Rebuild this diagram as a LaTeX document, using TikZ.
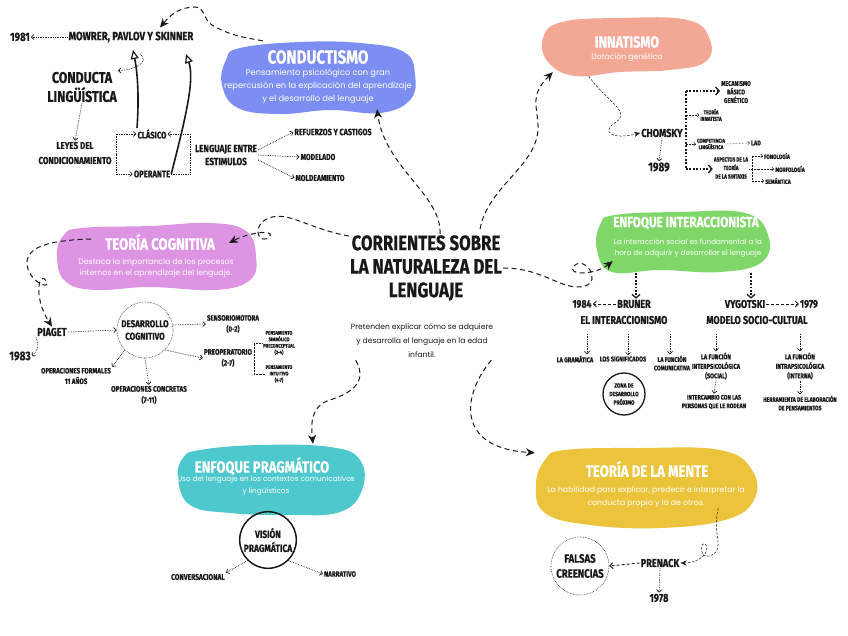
\documentclass[tikz,border=0pt]{standalone}
\usepackage{fontspec}
\setmainfont{Poppins}
\newfontfamily\hand{Fira Sans}[FakeStretch=0.8, FakeBold=0.5]
\usetikzlibrary{arrows.meta,calc}
\definecolor{cblue}{RGB}{124,142,242}
\definecolor{cpink}{RGB}{221,148,227}
\definecolor{csalmon}{RGB}{243,168,150}
\definecolor{cgreen}{RGB}{126,215,104}
\definecolor{cteal}{RGB}{77,200,204}
\definecolor{cyellow}{RGB}{236,196,59}
\definecolor{ink}{RGB}{25,25,25}
\tikzset{
 H/.style 2 args={font=\hand\bfseries\fontsize{#1}{#2}\selectfont, align=center, inner sep=1pt, text=ink},
 B/.style 2 args={font=\fontsize{#1}{#2}\selectfont, align=center, inner sep=0pt, text=white},
 T/.style={font=\hand\bfseries\fontsize{#1}{#1}\selectfont, text=white, inner sep=0pt},
 anch/.style 2 args={inner sep=0pt, minimum width=#1, minimum height=#2},
 dotarr/.style={densely dotted, line width=0.7pt, draw=ink, -{Straight Barb[length=2.5pt,width=5pt,line width=0.7pt]}},
 dotln/.style={densely dotted, line width=0.7pt, draw=ink},
 tinyarr/.style={densely dotted, line width=0.45pt, draw=ink, -{Straight Barb[length=1.8pt,width=3.5pt,line width=0.45pt]}},
 tinyln/.style={densely dotted, line width=0.45pt, draw=ink},
 heavyln/.style={dash pattern=on 1.8pt off 1.6pt, line width=1.8pt, draw=ink},
 heavyarr/.style={heavyln, -{Straight Barb[length=3.5pt,width=8pt,line width=1.3pt]}},
 dasharr/.style={dash pattern=on 5pt off 3.5pt, line width=1pt, draw=ink, -{Stealth[length=9pt,width=8pt]}},
 dashln/.style={dash pattern=on 3pt off 2pt, line width=0.9pt, draw=ink, -{Straight Barb[length=3pt,width=6pt,line width=0.9pt]}},
 thinarr/.style={dash pattern=on 2.5pt off 1.5pt, line width=0.5pt, draw=ink, -{Stealth[length=6pt,width=5pt]}},
 thickarr/.style={line width=1.6pt, draw=ink, -{Triangle[open,length=9pt,width=8pt,line width=1.2pt]}},
}
\begin{document}
\begin{tikzpicture}[x=1pt,y=-1pt]
\useasboundingbox (0,0) rectangle (848,636);
\fill[white] (0,0) rectangle (848,636);

% ---------- blobs ----------
\fill[cblue] plot[smooth cycle, tension=0.7] coordinates {(240,48) (300,42) (360,43) (404,52) (415,75) (410,100) (380,113) (330,110) (280,114) (238,108) (222,85) (226,60)};
\node[anch={190}{72}] (bC) at (318,78) {};
\fill[cpink] plot[smooth cycle, tension=0.7] coordinates {(82,228) (150,226) (210,223) (246,231) (256,256) (250,280) (215,290) (150,287) (95,290) (65,281) (57,256) (63,236)};
\node[anch={198}{66}] (bTC) at (156,256) {};
\fill[csalmon] plot[smooth cycle, tension=0.7] coordinates {(562,22) (620,18) (688,20) (710,40) (705,62) (670,70) (620,72) (575,76) (548,62) (543,38)};
\node[anch={166}{56}] (bIN) at (627,47) {};
\fill[cgreen] plot[smooth cycle, tension=0.7] coordinates {(615,215) (680,212) (745,213) (768,235) (762,262) (720,272) (660,270) (612,272) (597,250) (600,225)};
\node[anch={170}{58}] (bIA) at (683,242) {};
\fill[cteal] plot[smooth cycle, tension=0.7] coordinates {(200,450) (260,445) (330,447) (360,460) (362,490) (340,512) (290,515) (230,513) (190,505) (178,478) (183,458)};
\node[anch={184}{68}] (bPR) at (270,480) {};
\fill[cyellow] plot[smooth cycle, tension=0.7] coordinates {(565,450) (640,448) (720,450) (752,470) (754,500) (725,520) (660,528) (590,525) (545,513) (536,485) (545,460)};
\node[anch={218}{80}] (bTM) at (645,488) {};

% ---------- conductismo ----------
\node[T=19] (tC) at (318,57) {CONDUCTISMO};
\node[B={8.3}{13}] (dC) at (318,86) {Pensamiento psicológico con gran\\repercusión en la explicación del aprendizaje\\y el desarrollo del lenguaje};

\node[H={12}{13}] (n1981) at (20,37) {1981};
\node[H={12}{13}] (mow) at (131,37) {MOWRER, PAVLOV Y SKINNER};
\draw[dotarr] (mow.west) -- (n1981.east);
\node[H={15.5}{19}] (cl) at (82,87) {CONDUCTA\\LINGÜÍSTICA};
\node[H={10}{15}] (ley) at (75,153) {LEYES DEL\\CONDICIONAMIENTO};
\draw[dotarr] (cl.south) -- (ley.north);
\node[H={9.5}{10}] (clas) at (152,134) {CLÁSICO};
\node[H={9.5}{10}] (oper) at (152,174) {OPERANTE};
\coordinate (bl) at (116,155);
\draw[dotarr] (bl) |- (clas.west);
\draw[dotarr] (bl) |- (oper.west);
\node[H={10.3}{13}] (leng) at (226,155) {LENGUAJE ENTRE\\ESTIMULOS};
\coordinate (br) at (190,155);
\draw[dotarr] (br) |- (clas.east);
\draw[dotln] (br) |- (oper.east);
\coordinate (tA) at (133,50);
\coordinate (tB) at (186,54);
\draw[thickarr] ($(clas.north)+(-15,0)$) .. controls (139,100) and (138,75) .. (tA);
\draw[thickarr] (oper.east) .. controls (185,120) and (195,80) .. (tB);
\draw[dotarr] ($(tA)+(7,4)$) .. controls (150,62) and (135,70) .. (cl.north east);
\draw[dasharr] ($(bC.north west)+(40,-1)$) to[out=170,in=-30] (212,25) to[out=150,in=0] (195,7) to[out=180,in=50] ($(mow.north)+(29,-3)$);

\node[H={9}{10}] (ref) at (333,132) {REFUERZOS Y CASTIGOS};
\node[H={8.5}{10}] (mod) at (318,157) {MODELADO};
\node[H={8.5}{10}] (mol) at (320,178) {MOLDEAMIENTO};
\draw[dotarr] ($(leng.east)+(0,-5)$) -- (ref.west);
\draw[dotarr] (leng.east) -- (mod.west);
\draw[dotarr] ($(leng.east)+(0,5)$) -- (mol.west);

% ---------- center ----------
\node[H={21}{23.5}] (main) at (426,268) {CORRIENTES SOBRE\\LA NATURALEZA DEL\\LENGUAJE};
\node[font=\fontsize{7.6}{14}\selectfont, align=center, text=ink, inner sep=0pt] (sub) at (422,341) {Pretenden explicar cómo se adquiere\\y desarrolla el lenguaje en la edad\\infantil.};
\draw[dasharr] ($(main.north)+(14,0)$) .. controls (442,195) and (385,168) .. ($(bC.south)+(59,-5)$);

% ---------- teoria cognitiva ----------
\node[T=16.5] (tTC) at (160,242) {TEORÍA COGNITIVA};
\node[B={7.8}{11.5}] (dTC) at (156,268) {Destaca la importancia de los procesos\\internos en el aprendizaje del lenguaje.};
\draw[dasharr] ($(main.north west)+(0,2)$) .. controls (305,228) and (285,208) .. (265,220) .. controls (250,230) and (262,246) .. (270,236) .. controls (274,230) and (250,232) .. ($(tTC.east)+(14,1)$);
\node[H={11.5}{13}] (pia) at (52,332) {PIAGET};
\node[H={12.5}{14}] (n1983) at (20,356) {1983};
\draw[dasharr] ($(tTC.west)+(-14,-3)$) .. controls (55,240) and (28,245) .. (27,262) .. controls (26,280) and (52,292) .. (46,281) .. controls (40,270) and (32,295) .. (pia.north);
\node[circle, draw=ink, densely dotted, line width=0.6pt, minimum size=56, H={10}{12.5}] (des) at (145,330) {DESARROLLO\\COGNITIVO};
\draw[dotarr] (pia.east) -- (des.west);
\draw[dotarr] (pia.south west) .. controls (40,348) and (36,352) .. (n1983.east);
\node[H={7.7}{11}] (sen) at (233,324) {SENSORIOMOTORA\\(0-2)};
\node[H={8}{11}] (pre) at (228,358) {PREOPERATORIO\\(2-7)};
\node[H={8}{11}] (opc) at (149,395) {OPERACIONES CONCRETAS\\(7-11)};
\node[H={7.7}{10.5}] (opf) at (76,376) {OPERACIONES FORMALES\\11 AÑOS};
\draw[dotarr] ($(des.east)+(0,-5)$) -- (sen.west);
\draw[dotarr] (des.south east) -- (pre.west);
\draw[dotarr] (des.south) -- (opc.north);
\draw[dotarr] (des.south west) -- (opf.north east);
\node[H={5.2}{6.5}] (pe1) at (279,343) {PENSAMIENTO\\SIMBÓLICO\\PRECONCEPTUAL\\(2-4)};
\node[H={5.2}{6.5}] (pe2) at (279,374) {PENSAMIENTO\\INTUITIVO\\(4-7)};
\coordinate (pb) at (254,358);
\draw[tinyln] (pe1.west) -| (pb) |- (pe2.west);

% ---------- pragmatico ----------
\node[T=16.3] (tPR) at (262,466) {ENFOQUE PRAGMÁTICO};
\node[B={7.3}{12}] (dPR) at (266,486) {Uso del lenguaje en los contextos comunicativos\\y lingüísticos};
\draw[dasharr] ($(sub.south west)+(5,2)$) .. controls (370,385) and (345,395) .. (330,400) .. controls (310,406) and (311,425) .. ($(bPR.north)+(43,-2)$);
\node[circle, draw=ink, line width=1.5pt, minimum size=56, H={10.5}{14}] (vis) at (268,540) {VISIÓN\\PRAGMÁTICA};
\node[H={8.3}{9}] (conv) at (198,577) {CONVERSACIONAL};
\node[H={7.8}{9}] (nar) at (340,574) {NARRATIVO};
\draw[dotarr] (vis.south west) -- (conv.north east);
\draw[dotarr] (vis.south east) -- (nar.west);

% ---------- innatismo ----------
\node[T=16] (tIN) at (627,42) {INNATISMO};
\node[B={7.7}{10}] (dIN) at (627,58) {Dotación genética};
\draw[dasharr] ($(main.north east)+(-23,-5)$) .. controls (488,185) and (540,165) .. (538,125) .. controls (537,105) and (530,95) .. ($(bIN.south west)+(9,-3)$);
\node[H={11.5}{13}] (cho) at (662,133) {CHOMSKY};
\node[H={12.5}{14}] (n1989) at (659,167) {1989};
\draw[dotarr] (cho.south) -- (n1989.north);
\draw[thinarr] ($(bIN.south west)+(45,1)$) .. controls (605,100) and (632,112) .. (616,122) .. controls (600,132) and (612,140) .. (cho.west);
\coordinate (cbt) at (686,91);
\coordinate (cbb) at (686,169);
\draw[heavyln] (cbt) -- (cbb);
\node[H={6.8}{8.5}] (mec) at (736,92) {MECANISMO\\BÁSICO\\GENÉTICO};
\node[H={5.8}{6.5}] (tin) at (711,115) {TEORÍA\\INNATISTA};
\node[H={5.5}{6.5}] (com) at (711,144) {COMPETENCIA\\LINGÜÍSTICA};
\node[H={7}{8}] (lad) at (756,143) {LAD};
\node[H={5.8}{8.5}] (asp) at (731,168) {ASPECTOS DE LA\\TEORÍA\\DE LA SINTAXIS};
\draw[heavyarr] (cbt) -- (mec.west |- cbt);
\draw[heavyarr] (cbb) -- (asp.west |- cbb);
\draw[tinyarr] (cbt |- tin) -- (tin.west);
\draw[tinyarr] (cbt |- com) -- (com.west);
\draw[tinyarr] (com.east) -- (lad.west);
\node[H={6.2}{8}] (fon) at (777,156) {FONOLOGÍA};
\node[H={6.2}{8}] (mor) at (790,169) {MORFOLOGÍA};
\node[H={6.2}{8}] (sem) at (778,181) {SEMÁNTICA};
\coordinate (sbx) at (752,168);
\draw[tinyln] (sbx |- fon) -- (sbx |- sem);
\draw[tinyarr] (sbx |- fon) -- (fon.west);
\draw[tinyarr] (sbx |- sem) -- (sem.west);
\draw[tinyarr] (asp.east |- mor) -- (mor.west);

% ---------- interaccionista ----------
\node[T=14.7] (tIA) at (686,223) {ENFOQUE INTERACCIONISTA};
\node[B={7.2}{10.5}] (dIA) at (688,248) {La interacción social es fundamental a la\\hora de adquirir y desarrollar el lenguaje};
\draw[dasharr] (main.east) .. controls (545,268) and (562,292) .. (585,286) .. controls (602,281) and (585,255) .. (574,266) .. controls (566,276) and (595,275) .. ($(bIA.south west)+(15,-10)$);
\node[H={11.3}{12}] (bru) at (634,304) {BRUNER};
\node[H={11}{12}] (n1984) at (582,304) {1984};
\node[H={11.3}{12}] (int) at (624,320) {EL INTERACCIONISMO};
\node[H={11.3}{12}] (vyg) at (745,304) {VYGOTSKI};
\node[H={11}{12}] (n1979) at (809,304) {1979};
\node[H={11.3}{12}] (soc) at (757,320) {MODELO SOCIO-CULTUAL};
\coordinate (bruT) at (636,273);
\coordinate (vygT) at (751,273);
\draw[heavyarr] (bruT) -- (bruT |- bru.north);
\draw[heavyarr] (vygT) -- (vygT |- vyg.north);
\draw[dashln] (bru.west) -- (n1984.east);
\draw[dashln] (vyg.east) -- (n1979.west);
\node[H={7}{8}] (gra) at (575,359) {LA GRAMÁTICA};
\node[H={7}{8}] (sig) at (623,359) {LOS SIGNIFICADOS};
\node[H={6.7}{8.5}] (fco) at (672,363) {LA FUNCIÓN\\COMUNICATIVA};
\draw[dotarr] (587,334) -- (gra.north -| 587,0);
\draw[dotarr] (628,334) -- (sig.north -| 628,0);
\draw[dotarr] (670,334) -- (fco.north -| 670,0);
\node[circle, draw=ink, line width=1.3pt, minimum size=42, H={6.2}{8.5}] (zdp) at (624,394) {ZONA DE\\DESARROLLO\\PRÓXIMO};
\node[H={7}{9.5}] (inter) at (716,366) {LA FUNCIÓN\\INTERPSICOLÓGICA\\(SOCIAL)};
\node[H={7}{9.5}] (intra) at (800,366) {LA FUNCIÓN\\INTRAPSICOLÓGICA\\(INTERNA)};
\draw[dotarr] (inter.north |- 0,334) -- (inter.north);
\draw[dotarr] (intra.north |- 0,334) -- (intra.north);
\node[H={6.6}{8.5}] (icam) at (714,402) {INTERCAMBIO CON LAS\\PERSONAS QUE LE RODEAN};
\node[H={6.4}{8.5}] (herr) at (800,403) {HERRAMIENTA DE ELABORACIÓN\\DE PENSAMIENTOS};
\draw[dotarr] (inter.south) -- (icam.north);
\draw[dotarr] (intra.south) -- (herr.north);

% ---------- teoria de la mente ----------
\node[T=16.5] (tTM) at (647,469) {TEORÍA DE LA MENTE};
\node[B={7.8}{12.5}] (dTM) at (646,497) {La habilidad para explicar, predecir e interpretar la\\conducta propia y la de otros.};
\draw[dasharr] ($(sub.south east)+(-2,2)$) .. controls (462,395) and (455,448) .. ($(bTM.north west)+(-1,5)$);
\node[H={11.5}{13}] (pre2) at (660,563) {PRENACK};
\node[H={11.5}{13}] (n1978) at (659,598) {1978};
\node[circle, draw=ink, densely dotted, line width=0.6pt, minimum size=58, H={12}{15}] (fal) at (580,566) {FALSAS\\CREENCIAS};
\draw[dashln] (pre2.west) -- (fal.east);
\draw[dotarr] (pre2.south) -- (n1978.north);
\draw[thinarr] ($(bTM.south east)+(-36,-20)$) .. controls (712,535) and (725,548) .. (712,555) .. controls (698,562) and (700,538) .. (706,545) .. controls (710,552) and (700,563) .. (pre2.east);
\end{tikzpicture}
\end{document}
